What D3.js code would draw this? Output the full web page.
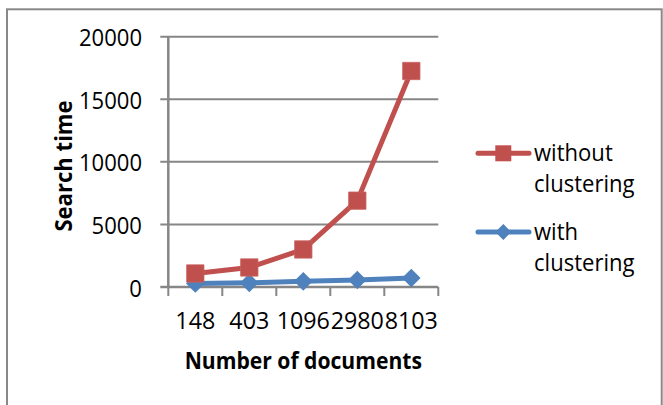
<!DOCTYPE html>
<html>
<head>
<meta charset="utf-8">
<script src="https://cdn.jsdelivr.net/npm/d3@7/dist/d3.min.js"></script>
<style>
  html, body { margin: 0; padding: 0; background: #fff; }
  svg { display: block; }
  text { font-family: "Open Sans", "Liberation Sans", sans-serif; fill: #000; }
</style>
</head>
<body>
<svg id="chart" width="663" height="405"></svg>
<script>
// Search time vs. number of documents, with and without clustering
const categories = ["148", "403", "1096", "2980", "8103"];
const withoutClustering = [1080, 1560, 3000, 6900, 17260];
const withClustering = [280, 330, 450, 560, 720];
const yTicks = [0, 5000, 10000, 15000, 20000];
const seriesNames = ["without clustering", "with clustering"];

const RED = "#C0504D", BLUE = "#4F81BD", GRID = "#868686";
const FONT = 24;

const svg = d3.select("#chart");

// chart-area frame
svg.append("rect")
  .attr("x", 7).attr("y", 9.3).attr("width", 654.7).attr("height", 420)
  .attr("fill", "#fff").attr("stroke", "#898989").attr("stroke-width", 2);

const plot = { left: 168.3, right: 438.3, top: 36.7, bottom: 287 };

const x = d3.scaleBand().domain(categories).range([plot.left, plot.right]).padding(0);
const y = d3.scaleLinear().domain([0, 20000]).range([plot.bottom, plot.top]);

// condensed text helper (narrow face)
function label(g, str, px, py, anchor, weight, rotate, squeeze) {
  const s = squeeze || 0.92;
  return g.append("text")
    .attr("transform", `translate(${px},${py})` + (rotate ? ` rotate(${rotate})` : "") + ` scale(${s},1)`)
    .attr("text-anchor", anchor)
    .attr("font-size", FONT)
    .attr("font-weight", weight || 400)
    .text(str);
}

// horizontal gridlines (extend left as tick marks)
svg.append("g").selectAll("line").data(yTicks).join("line")
  .attr("x1", plot.left - 8).attr("x2", plot.right)
  .attr("y1", d => y(d)).attr("y2", d => y(d))
  .attr("stroke", GRID).attr("stroke-width", d => d === 0 ? 2.5 : 2);

// y axis line
svg.append("line")
  .attr("x1", plot.left).attr("x2", plot.left)
  .attr("y1", plot.top).attr("y2", plot.bottom)
  .attr("stroke", GRID).attr("stroke-width", 2.5);

// x axis tick marks at category boundaries
const bounds = categories.map(c => x(c)).concat([plot.right]);
svg.append("g").selectAll("line").data(bounds).join("line")
  .attr("x1", d => d).attr("x2", d => d)
  .attr("y1", plot.bottom).attr("y2", plot.bottom + 9)
  .attr("stroke", GRID).attr("stroke-width", 2);

// y tick labels
const yl = svg.append("g");
yTicks.forEach(v => label(yl, String(v), 142, y(v) + 9.5, "end", 400, 0, 0.92));

// x tick labels
const xl = svg.append("g");
categories.forEach(c => label(xl, c, x(c) + x.bandwidth() / 2, 328.5, "middle", 400, 0, 0.97));

// axis titles
label(svg, "Number of documents", (plot.left + plot.right) / 2, 368.5, "middle", 700, 0, 0.88);
label(svg, "Search time", 72, 166, "middle", 700, -90, 0.92);

// series lines
const cx = c => x(c) + x.bandwidth() / 2;
const line = d3.line().x((d, i) => cx(categories[i])).y(d => y(d));

svg.append("path").datum(withClustering)
  .attr("d", line).attr("fill", "none")
  .attr("stroke", BLUE).attr("stroke-width", 5).attr("stroke-linejoin", "round");
svg.append("path").datum(withoutClustering)
  .attr("d", line).attr("fill", "none")
  .attr("stroke", RED).attr("stroke-width", 5).attr("stroke-linejoin", "round");

// markers
const diamond = d3.symbol().type(d3.symbolDiamond2).size(220);
const square = d3.symbol().type(d3.symbolSquare).size(300);

svg.append("g").selectAll("path").data(withClustering).join("path")
  .attr("transform", (d, i) => `translate(${cx(categories[i])},${y(d)})`)
  .attr("d", diamond).attr("fill", BLUE);
svg.append("g").selectAll("path").data(withoutClustering).join("path")
  .attr("transform", (d, i) => `translate(${cx(categories[i])},${y(d)})`)
  .attr("d", square).attr("fill", RED).attr("stroke", "#C8625F").attr("stroke-width", 0.8);

// legend
const legend = [
  { name: seriesNames[0], color: RED, sym: d3.symbol().type(d3.symbolSquare).size(256), ly: 153.3 },
  { name: seriesNames[1], color: BLUE, sym: d3.symbol().type(d3.symbolDiamond2).size(160), ly: 232 }
];
legend.forEach(e => {
  const g = svg.append("g");
  g.append("line").attr("x1", 478).attr("x2", 529).attr("y1", e.ly).attr("y2", e.ly)
    .attr("stroke", e.color).attr("stroke-width", 5).attr("stroke-linecap", "round");
  g.append("path").attr("transform", `translate(503.3,${e.ly})`).attr("d", e.sym).attr("fill", e.color);
  const words = e.name.split(" ");
  label(g, words[0], 534, e.ly + 8, "start");
  label(g, words[1], 534, e.ly + 39, "start");
});
</script>
</body>
</html>
